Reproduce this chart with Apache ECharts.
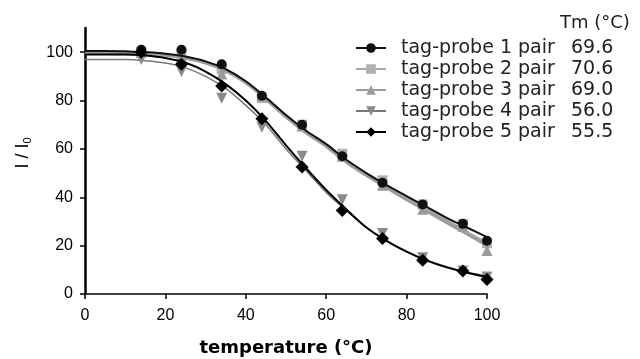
<!DOCTYPE html>
<html>
<head>
<meta charset="utf-8">
<script src="https://cdn.jsdelivr.net/npm/echarts@6/dist/echarts.min.js"></script>
<style>
  html, body { margin: 0; padding: 0; background: #fff; }
  #chart { width: 640px; height: 359px; }
</style>
</head>
<body>
<div id="chart"></div>
<script>
// measured temperatures (deg C) and normalised signal I/I0
var temps = [14, 24, 34, 44, 54, 64, 74, 84, 94, 100];
var probe1 = [101, 101, 95, 82, 70, 57, 46, 37, 29, 22];
var probe2 = [100, 99.5, 93, 81, 70, 58, 47, 37, 29, 21];
var probe3 = [100, 98, 91, 82, 69.5, 57, 45, 35, 28, 18];
var probe4 = [97, 92, 81, 69, 57, 39, 25, 15, 9.5, 7];
var probe5 = [100, 95, 86, 72.5, 52.5, 34.5, 23, 14, 9.5, 6];

// fitted melting curves, every 5 deg
var fitTemps = [0, 5, 10, 15, 20, 25, 30, 35, 40, 45, 50, 55, 60, 65, 70, 75, 80, 85, 90, 95, 100];
var fit1 = [100.5, 100.5, 100.4, 100, 99.4, 98.2, 96.2, 93, 88, 81.3, 74, 67.5, 62, 55.5, 50, 45, 40.5, 36, 31.5, 27.5, 23.5];
var fit2 = [100, 100, 99.9, 99.6, 99, 97.8, 95.8, 92.6, 87.6, 80.8, 73.5, 67, 61.5, 55, 49.5, 44.5, 39.5, 35, 30.5, 25.5, 21];
var fit3 = [99.5, 99.5, 99.4, 99.2, 98.7, 97.5, 95.5, 92.3, 87.3, 80.5, 73.2, 66.7, 61, 54.5, 49, 44, 39, 34.2, 29.5, 24.8, 20];
var fit4 = [97, 97, 97, 96.5, 95.5, 93.5, 90, 85, 78, 70, 60, 51, 42, 34.5, 27.5, 22, 17.5, 14, 11.3, 9, 7.5];
var fit5 = [99, 99, 99, 98.6, 97.6, 95.6, 92, 86.8, 80, 71.5, 61.5, 52, 43, 35, 27.5, 22, 17.5, 13.8, 11, 8.8, 7];

var names = ['tag-probe 1 pair', 'tag-probe 2 pair', 'tag-probe 3 pair', 'tag-probe 4 pair', 'tag-probe 5 pair'];
var tm = ['69.6', '70.6', '69.0', '56.0', '55.5'];
var yTicks = [0, 20, 40, 60, 80, 100];

var points = [probe1, probe2, probe3, probe4, probe5];
var fits = [fit1, fit2, fit3, fit4, fit5];
var colors = ['#111', '#b0b0b0', '#9a9a9a', '#8a8a8a', '#000'];
var lineColors = ['#111', '#a8a8a8', '#9c9c9c', '#777', '#000'];
var lineWidths = [2, 3, 3, 1.5, 2];
var symbols = ['circle', 'rect', 'triangle', 'triangle', 'diamond'];
var symbolRot = [0, 0, 0, 180, 0];
var symbolSizes = [10, 10, 11, 11, 13];
var zs = [5, 2, 3, 1, 6];

function pair(xs, ys) {
    return xs.map(function (x, i) { return [x, ys[i]]; });
}

var series = [];
for (var i = 0; i < 5; i++) {
    series.push({
        name: names[i],
        type: 'line',
        data: pair(fitTemps, fits[i]),
        smooth: 0.3,
        showSymbol: false,
        symbol: symbols[i],
        symbolRotate: symbolRot[i],
        symbolSize: symbolSizes[i],
        itemStyle: { color: colors[i] },
        lineStyle: { color: lineColors[i], width: lineWidths[i] },
        z: zs[i]
    });
}
for (var j = 0; j < 5; j++) {
    series.push({
        name: names[j],
        type: 'scatter',
        data: pair(temps, points[j]),
        symbol: symbols[j],
        symbolRotate: symbolRot[j],
        symbolSize: symbolSizes[j],
        itemStyle: { color: colors[j], opacity: 1 },
        z: zs[j] + 0.5
    });
}

var chart = echarts.init(document.getElementById('chart'));
chart.setOption({
    animation: false,
    backgroundColor: '#fff',
    title: {
        text: 'Tm (°C)',
        left: 560,
        top: 14,
        padding: 0,
        textStyle: { fontFamily: 'DejaVu Sans', fontSize: 18, fontWeight: 'normal', color: '#222' }
    },
    legend: {
        data: names,
        orient: 'vertical',
        left: 355,
        top: 38,
        itemWidth: 30,
        itemHeight: 12,
        itemGap: 1,
        padding: 0,
        formatter: function (name) {
            return '{n|' + name + '}{t|' + tm[names.indexOf(name)] + '}';
        },
        textStyle: {
            fontFamily: 'DejaVu Sans',
            fontSize: 19,
            color: '#222',
            lineHeight: 20,
            rich: {
                n: { fontFamily: 'DejaVu Sans', fontSize: 19, color: '#222', width: 170, padding: [0, 0, 0, 10] },
                t: { fontFamily: 'DejaVu Sans', fontSize: 19, color: '#222' }
            }
        }
    },
    grid: { left: 85, right: 153, top: 28, bottom: 65, containLabel: false, outerBoundsMode: 'none' },
    xAxis: {
        type: 'value',
        min: 0,
        max: 100,
        interval: 20,
        name: 'temperature (°C)',
        nameLocation: 'middle',
        nameGap: 45,
        nameTextStyle: { fontFamily: 'DejaVu Sans', fontWeight: 'bold', fontSize: 18, color: '#000' },
        axisLine: { onZero: false, lineStyle: { color: '#000', width: 1.5 } },
        axisTick: { length: 5, lineStyle: { color: '#000', width: 1.5 } },
        axisLabel: { margin: 14, fontFamily: 'Liberation Sans', fontSize: 16, color: '#000' },
        splitLine: { show: false }
    },
    yAxis: {
        type: 'value',
        min: 0,
        max: 110,
        name: 'I / I{s|0}',
        nameLocation: 'middle',
        nameRotate: 90,
        nameGap: 52,
        nameTextStyle: {
            fontFamily: 'Liberation Sans', fontSize: 18, color: '#000',
            padding: [0, 0, 0, 16],
            rich: { s: { fontFamily: 'Liberation Sans', fontSize: 11, color: '#000', verticalAlign: 'bottom', padding: [8, 0, 0, 0] } }
        },
        axisLine: { onZero: false, lineStyle: { color: '#000', width: 2.5 } },
        axisTick: { length: 5, customValues: yTicks, lineStyle: { color: '#000', width: 1.5 } },
        axisLabel: { margin: 12, customValues: yTicks, fontFamily: 'Liberation Sans', fontSize: 16, color: '#000' },
        splitLine: { show: false }
    },
    series: series
});
</script>
</body>
</html>
